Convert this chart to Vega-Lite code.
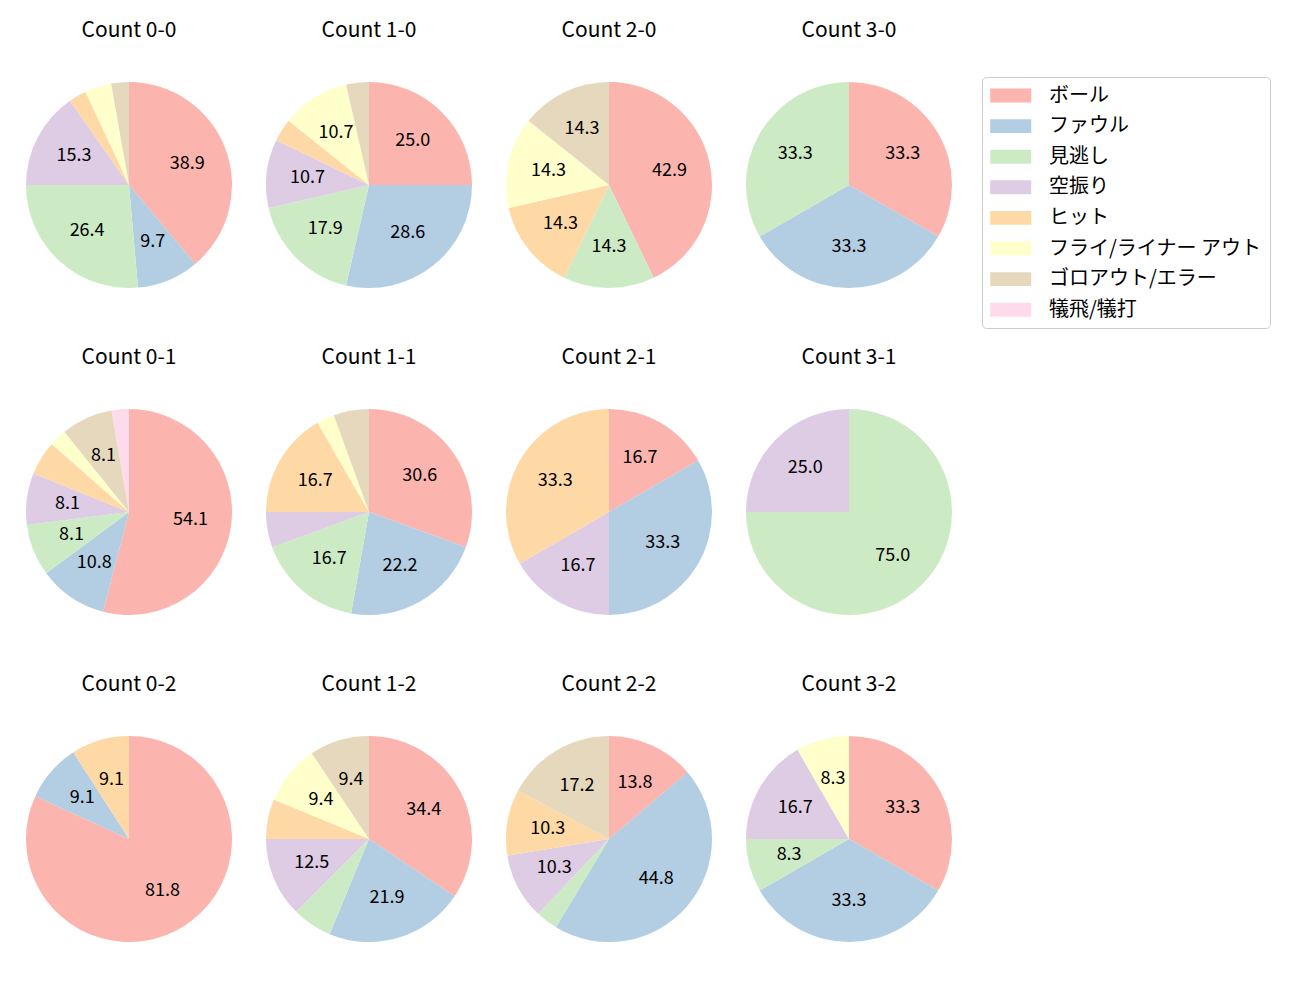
{
  "$schema": "https://vega.github.io/schema/vega-lite/v6.json",
  "padding": {"left": 26, "top": 20, "right": 5, "bottom": 5},
  "autosize": {"type": "pad"},
  "background": "white",
  "config": {"view": {"stroke": null}, "font": "Noto Sans CJK JP"},
  "data": {"values": [
    {"c": "Count 0-0", "k": 0, "t": "ボール", "n": 28, "p": 38.9},
    {"c": "Count 0-0", "k": 1, "t": "ファウル", "n": 7, "p": 9.7},
    {"c": "Count 0-0", "k": 2, "t": "見逃し", "n": 19, "p": 26.4},
    {"c": "Count 0-0", "k": 3, "t": "空振り", "n": 11, "p": 15.3},
    {"c": "Count 0-0", "k": 4, "t": "ヒット", "n": 2, "p": 2.8},
    {"c": "Count 0-0", "k": 5, "t": "フライ/ライナー アウト", "n": 3, "p": 4.2},
    {"c": "Count 0-0", "k": 6, "t": "ゴロアウト/エラー", "n": 2, "p": 2.8},
    {"c": "Count 1-0", "k": 0, "t": "ボール", "n": 7, "p": 25.0},
    {"c": "Count 1-0", "k": 1, "t": "ファウル", "n": 8, "p": 28.6},
    {"c": "Count 1-0", "k": 2, "t": "見逃し", "n": 5, "p": 17.9},
    {"c": "Count 1-0", "k": 3, "t": "空振り", "n": 3, "p": 10.7},
    {"c": "Count 1-0", "k": 4, "t": "ヒット", "n": 1, "p": 3.6},
    {"c": "Count 1-0", "k": 5, "t": "フライ/ライナー アウト", "n": 3, "p": 10.7},
    {"c": "Count 1-0", "k": 6, "t": "ゴロアウト/エラー", "n": 1, "p": 3.6},
    {"c": "Count 2-0", "k": 0, "t": "ボール", "n": 3, "p": 42.9},
    {"c": "Count 2-0", "k": 2, "t": "見逃し", "n": 1, "p": 14.3},
    {"c": "Count 2-0", "k": 4, "t": "ヒット", "n": 1, "p": 14.3},
    {"c": "Count 2-0", "k": 5, "t": "フライ/ライナー アウト", "n": 1, "p": 14.3},
    {"c": "Count 2-0", "k": 6, "t": "ゴロアウト/エラー", "n": 1, "p": 14.3},
    {"c": "Count 3-0", "k": 0, "t": "ボール", "n": 1, "p": 33.3},
    {"c": "Count 3-0", "k": 1, "t": "ファウル", "n": 1, "p": 33.3},
    {"c": "Count 3-0", "k": 2, "t": "見逃し", "n": 1, "p": 33.3},
    {"c": "Count 0-1", "k": 0, "t": "ボール", "n": 20, "p": 54.1},
    {"c": "Count 0-1", "k": 1, "t": "ファウル", "n": 4, "p": 10.8},
    {"c": "Count 0-1", "k": 2, "t": "見逃し", "n": 3, "p": 8.1},
    {"c": "Count 0-1", "k": 3, "t": "空振り", "n": 3, "p": 8.1},
    {"c": "Count 0-1", "k": 4, "t": "ヒット", "n": 2, "p": 5.4},
    {"c": "Count 0-1", "k": 5, "t": "フライ/ライナー アウト", "n": 1, "p": 2.7},
    {"c": "Count 0-1", "k": 6, "t": "ゴロアウト/エラー", "n": 3, "p": 8.1},
    {"c": "Count 0-1", "k": 7, "t": "犠飛/犠打", "n": 1, "p": 2.7},
    {"c": "Count 1-1", "k": 0, "t": "ボール", "n": 11, "p": 30.6},
    {"c": "Count 1-1", "k": 1, "t": "ファウル", "n": 8, "p": 22.2},
    {"c": "Count 1-1", "k": 2, "t": "見逃し", "n": 6, "p": 16.7},
    {"c": "Count 1-1", "k": 3, "t": "空振り", "n": 2, "p": 5.6},
    {"c": "Count 1-1", "k": 4, "t": "ヒット", "n": 6, "p": 16.7},
    {"c": "Count 1-1", "k": 5, "t": "フライ/ライナー アウト", "n": 1, "p": 2.8},
    {"c": "Count 1-1", "k": 6, "t": "ゴロアウト/エラー", "n": 2, "p": 5.6},
    {"c": "Count 2-1", "k": 0, "t": "ボール", "n": 1, "p": 16.7},
    {"c": "Count 2-1", "k": 1, "t": "ファウル", "n": 2, "p": 33.3},
    {"c": "Count 2-1", "k": 3, "t": "空振り", "n": 1, "p": 16.7},
    {"c": "Count 2-1", "k": 4, "t": "ヒット", "n": 2, "p": 33.3},
    {"c": "Count 3-1", "k": 2, "t": "見逃し", "n": 3, "p": 75.0},
    {"c": "Count 3-1", "k": 3, "t": "空振り", "n": 1, "p": 25.0},
    {"c": "Count 0-2", "k": 0, "t": "ボール", "n": 9, "p": 81.8},
    {"c": "Count 0-2", "k": 1, "t": "ファウル", "n": 1, "p": 9.1},
    {"c": "Count 0-2", "k": 4, "t": "ヒット", "n": 1, "p": 9.1},
    {"c": "Count 1-2", "k": 0, "t": "ボール", "n": 11, "p": 34.4},
    {"c": "Count 1-2", "k": 1, "t": "ファウル", "n": 7, "p": 21.9},
    {"c": "Count 1-2", "k": 2, "t": "見逃し", "n": 2, "p": 6.2},
    {"c": "Count 1-2", "k": 3, "t": "空振り", "n": 4, "p": 12.5},
    {"c": "Count 1-2", "k": 4, "t": "ヒット", "n": 2, "p": 6.2},
    {"c": "Count 1-2", "k": 5, "t": "フライ/ライナー アウト", "n": 3, "p": 9.4},
    {"c": "Count 1-2", "k": 6, "t": "ゴロアウト/エラー", "n": 3, "p": 9.4},
    {"c": "Count 2-2", "k": 0, "t": "ボール", "n": 4, "p": 13.8},
    {"c": "Count 2-2", "k": 1, "t": "ファウル", "n": 13, "p": 44.8},
    {"c": "Count 2-2", "k": 2, "t": "見逃し", "n": 1, "p": 3.4},
    {"c": "Count 2-2", "k": 3, "t": "空振り", "n": 3, "p": 10.3},
    {"c": "Count 2-2", "k": 4, "t": "ヒット", "n": 3, "p": 10.3},
    {"c": "Count 2-2", "k": 6, "t": "ゴロアウト/エラー", "n": 5, "p": 17.2},
    {"c": "Count 3-2", "k": 0, "t": "ボール", "n": 4, "p": 33.3},
    {"c": "Count 3-2", "k": 1, "t": "ファウル", "n": 4, "p": 33.3},
    {"c": "Count 3-2", "k": 2, "t": "見逃し", "n": 1, "p": 8.3},
    {"c": "Count 3-2", "k": 3, "t": "空振り", "n": 2, "p": 16.7},
    {"c": "Count 3-2", "k": 5, "t": "フライ/ライナー アウト", "n": 1, "p": 8.3}
  ]},
  "facet": {
    "field": "c",
    "type": "nominal",
    "sort": ["Count 0-0", "Count 1-0", "Count 2-0", "Count 3-0", "Count 0-1", "Count 1-1", "Count 2-1", "Count 3-1", "Count 0-2", "Count 1-2", "Count 2-2", "Count 3-2"],
    "header": {"title": null, "labelFontSize": 21, "labelFont": "Noto Sans CJK JP", "labelColor": "black", "labelPadding": 41}
  },
  "columns": 4,
  "spacing": {"column": 34, "row": 59},
  "spec": {
    "width": 206,
    "height": 206,
    "layer": [
      {
        "mark": {"type": "arc", "outerRadius": 103},
        "encoding": {
          "theta": {"field": "n", "type": "quantitative", "stack": "normalize"},
          "order": {"field": "k", "type": "quantitative"},
          "color": {
            "field": "t", "type": "nominal",
            "scale": {
              "domain": ["ボール", "ファウル", "見逃し", "空振り", "ヒット", "フライ/ライナー アウト", "ゴロアウト/エラー", "犠飛/犠打"],
              "range": ["#fbb4ae", "#b3cde3", "#ccebc5", "#decbe4", "#fed9a6", "#ffffcc", "#e5d8bd", "#fddaec"]
            },
            "legend": {
              "title": null,
              "orient": "none",
              "legendX": 956,
              "legendY": -5,
              "symbolType": "M-1,-0.68L3,-0.68L3,0.68L-1,0.68Z",
              "symbolSize": 420,
              "symbolStrokeWidth": 0,
              "labelFontSize": 20,
              "labelFont": "Noto Sans CJK JP",
              "labelColor": "black",
              "labelOffset": 38,
              "labelLimit": 400,
              "rowPadding": 9.6,
              "padding": 8,
              "strokeColor": "#cccccc",
              "cornerRadius": 4,
              "fillColor": "white"
            }
          }
        }
      },
      {
        "mark": {"type": "text", "radius": 62, "fontSize": 18, "font": "Noto Sans CJK JP", "color": "black"},
        "encoding": {
          "theta": {"field": "n", "type": "quantitative", "stack": "normalize"},
          "order": {"field": "k", "type": "quantitative"},
          "text": {"condition": {"test": "datum.p >= 7", "field": "p", "type": "quantitative", "format": ".1f"}, "value": ""}
        }
      }
    ]
  }
}
